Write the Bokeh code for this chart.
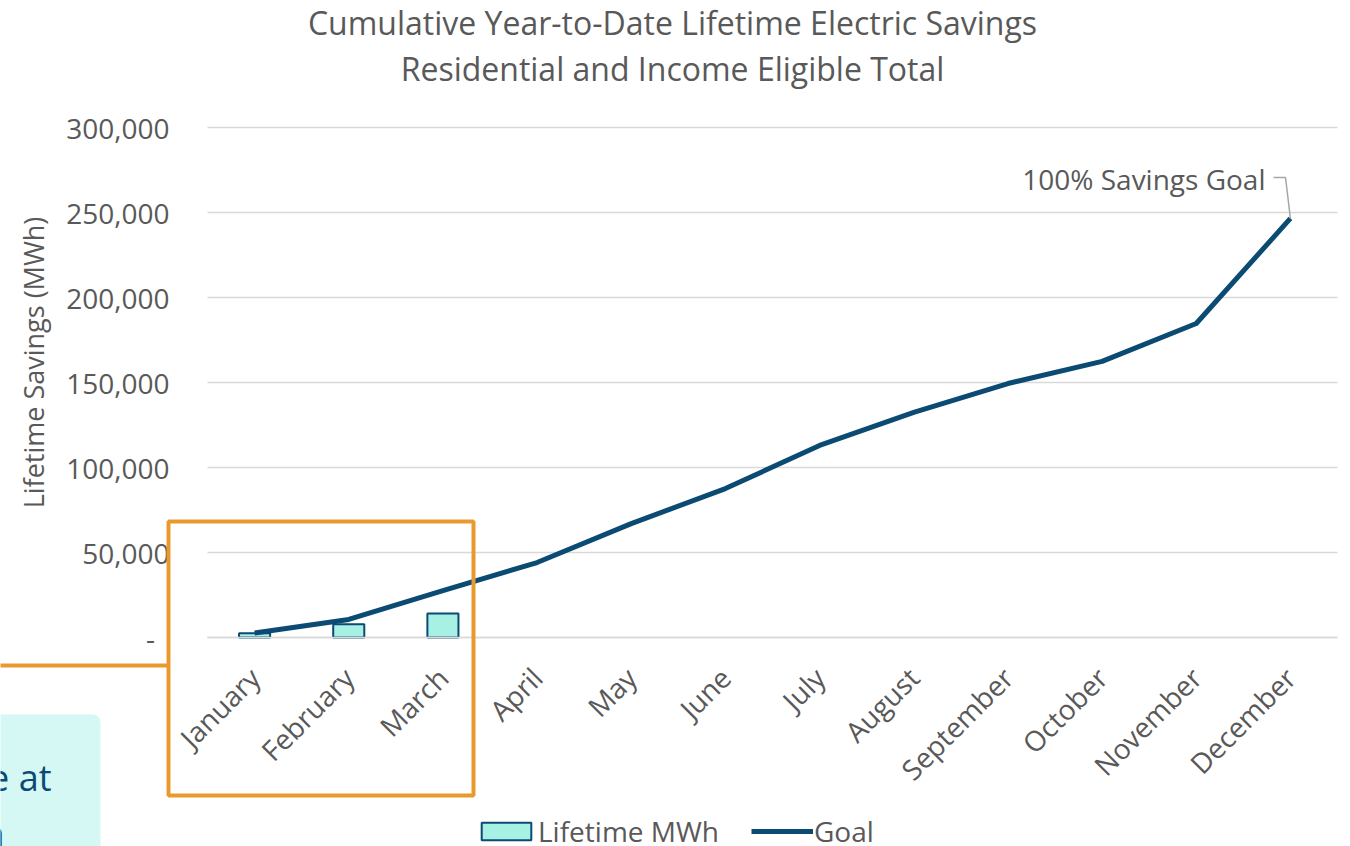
import math
from bokeh.plotting import figure
from bokeh.models import (Range1d, Label, BoxAnnotation, Legend, LegendItem, LinearAxis,
                          NumeralTickFormatter, FixedTicker)
from bokeh.embed import file_html
from bokeh.resources import INLINE

# ---------------- data ----------------
months = ["January", "February", "March", "April", "May", "June", "July",
          "August", "September", "October", "November", "December"]
lifetime_mwh = [2500, 7800, 14100]          # January .. March
goal = [2700, 10600, 27600, 44100, 67000, 87600, 113000, 132400, 149400, 162400, 184700, 246500]
y_ticks = [0, 50000, 100000, 150000, 200000, 250000, 300000]
title_lines = ["Cumulative Year-to-Date Lifetime Electric Savings",
               "Residential and Income Eligible Total"]
y_title = "Lifetime Savings (MWh)"
goal_note = "100% Savings Goal"
callout_lines = ["e at", "n"]
legend_labels = ["Lifetime MWh", "Goal"]

# ---------------- layout / style ----------------
W, H = 1350, 846
PLOT_L, PLOT_R, PLOT_T, PLOT_B = 207, 1337, 127, 637   # plot area in canvas px
Y_MAX = y_ticks[-1]
N = len(months)
CW = (PLOT_R - PLOT_L) / N
PY = (PLOT_B - PLOT_T) / Y_MAX


def ux(px):
    return (px - PLOT_L) / CW


def uy(py):
    return (PLOT_B - py) / PY


FONT = "Open Sans"
GRAY = "#595959"
GRID = "#D9D9D9"
NAVY = "#0B4A73"
AQUA = "#A6F0E4"
ORANGE = "#E99A2E"
CALLOUT_BG = "#D5F8F5"

p = figure(width=W, height=H, x_range=Range1d(ux(0), ux(W)), y_range=Range1d(uy(H), uy(0)),
           output_backend="svg", toolbar_location=None, min_border=0,
           x_axis_type=None, y_axis_type=None)
p.outline_line_color = None
p.background_fill_color = "white"
p.border_fill_color = "white"

# horizontal gridlines across the plot area
p.segment(x0=0, x1=N, y0=y_ticks, y1=y_ticks, line_color=GRID, line_width=1.5)

centers = [i + 0.5 for i in range(N)]
bars = p.vbar(x=centers[:len(lifetime_mwh)], top=lifetime_mwh, width=0.33,
              fill_color=AQUA, line_color=NAVY, line_width=2)
goal_line = p.line(x=centers, y=goal, line_width=5, line_color=NAVY, line_join="round")

# axes drawn at fixed positions inside the canvas
xaxis = LinearAxis(fixed_location=0, ticker=FixedTicker(ticks=centers),
                   major_label_overrides=dict(zip(centers, months)), bounds=(0, N))
xaxis.major_label_orientation = math.pi / 4
xaxis.major_label_text_font = FONT
xaxis.major_label_text_font_size = "28px"
xaxis.major_label_text_color = GRAY
xaxis.axis_line_color = GRID
xaxis.axis_line_width = 1.5
xaxis.major_tick_line_color = None
xaxis.minor_tick_line_color = None
xaxis.major_label_standoff = 29
p.add_layout(xaxis, "below")

yaxis = LinearAxis(fixed_location=0, ticker=FixedTicker(ticks=y_ticks),
                   formatter=NumeralTickFormatter(format="0,0"),
                   major_label_overrides={0: "-\u00a0\u00a0"}, bounds=(0, Y_MAX))
yaxis.major_label_text_font = FONT
yaxis.major_label_text_font_size = "28px"
yaxis.major_label_text_color = GRAY
yaxis.axis_line_color = None
yaxis.major_tick_line_color = None
yaxis.minor_tick_line_color = None
yaxis.major_label_standoff = 32
p.add_layout(yaxis, "left")

# titles (two centred lines)
for txt, py in zip(title_lines, [22, 68]):
    p.add_layout(Label(x=ux(672), y=uy(py), text=txt, text_align="center",
                       text_baseline="middle", text_font=FONT, text_font_size="32px",
                       text_color=GRAY))

# y axis title
p.add_layout(Label(x=ux(33), y=uy(362), text=y_title, angle=math.pi / 2,
                   text_align="center", text_baseline="middle", text_font=FONT,
                   text_font_size="27px", text_color=GRAY))

# goal annotation with leader line
p.add_layout(Label(x=ux(1265), y=uy(178), text=goal_note, text_align="right",
                   text_baseline="middle", text_font=FONT, text_font_size="28px",
                   text_color=GRAY))
p.multi_line(xs=[[ux(1273), ux(1285), centers[-1]]],
             ys=[[uy(177), uy(177), goal[-1]]], line_color="#A6A6A6", line_width=1.5)

# callout box (partly off the page)
p.add_layout(BoxAnnotation(left=ux(-50), right=ux(100), top=uy(714), bottom=uy(H + 50),
                           fill_color=CALLOUT_BG, fill_alpha=1, line_color=None,
                           border_radius=8))
p.add_layout(Label(x=ux(51), y=uy(777), text=callout_lines[0], text_align="right",
                   text_baseline="alphabetic", text_font=FONT, text_font_size="36px",
                   text_color=NAVY))
p.add_layout(Label(x=ux(4), y=uy(833), text=callout_lines[1], text_align="right",
                   text_baseline="alphabetic", text_font=FONT, text_font_size="36px",
                   text_color=NAVY))

# orange highlight box and connector
p.add_layout(BoxAnnotation(left=ux(168), right=ux(473), top=uy(521), bottom=uy(795),
                           fill_alpha=0, line_color=ORANGE, line_alpha=1, line_width=4))
p.add_layout(BoxAnnotation(left=ux(-50), right=ux(168), top=uy(663), bottom=uy(667),
                           fill_color=ORANGE, fill_alpha=1, line_color=None))

# legend
legend = Legend(items=[LegendItem(label=legend_labels[0], renderers=[bars]),
                       LegendItem(label=legend_labels[1], renderers=[goal_line])],
                orientation="horizontal", location=(475, -4),
                glyph_width=62, glyph_height=22, label_standoff=1, spacing=32,
                padding=0, margin=0, border_line_color=None, background_fill_alpha=0,
                label_text_font=FONT, label_text_font_size="28px",
                label_text_color=GRAY)
p.add_layout(legend, "center")

open("out.html", "w").write(file_html(p, INLINE))
